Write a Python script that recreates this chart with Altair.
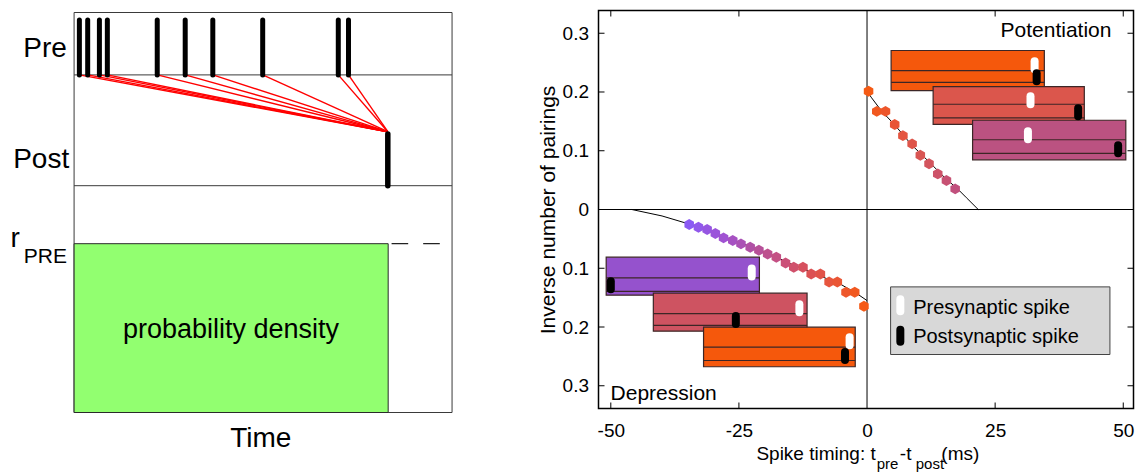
import altair as alt
import pandas as pd

# ---------------- left schematic: data ----------------
pre_spike_times = [1.4, 3.6, 6.7, 8.8, 22.0, 29.4, 36.7, 49.9, 69.9, 72.6]
post_spike_time = 83.0
density_end = 83.1
rate_level = 42.2
rate_dash = [84.0, 96.8]
frame_rows = [100.0, 84.4, 56.7, 0.0]
frame_cols = [0.0, 100.0]
pre_base, pre_top = 84.4, 98.1
post_base, post_top = 56.7, 69.6
converge_level = 70.2

# ---------------- right plot: data ----------------
dep_pts_x = [-34.7, -32.9, -31.2, -29.6, -28.0, -26.2, -24.6, -22.8, -21.1, -19.4, -17.7,
             -15.9, -14.3, -12.5, -10.9, -9.1, -7.4, -5.8, -4.1, -2.4, -0.6]
dep_pts_y = [-0.0256, -0.0301, -0.0340, -0.0409, -0.0483, -0.0528, -0.0585, -0.0642, -0.0693,
             -0.0756, -0.0812, -0.0910, -0.0984, -0.0984, -0.1098, -0.1098, -0.1234, -0.1234,
             -0.1410, -0.1410, -0.1646]
pot_pts_x = [0.3, 1.9, 3.6, 5.4, 7.0, 8.8, 10.4, 12.1, 13.8, 15.5, 17.2]
pot_pts_y = [0.2014, 0.1670, 0.1670, 0.1447, 0.1257, 0.1117, 0.0925, 0.0777, 0.0606, 0.0493, 0.0351]

dep_curve_x = [-45.9, -40, -35, -30, -25, -20, -15, -10, -5, -2, 0]
dep_curve_y = [0, -0.011, -0.024, -0.039, -0.056, -0.072, -0.092, -0.110, -0.128, -0.143, -0.155]
pot_curve_x = [0, 0.9, 2.8, 5.4, 8.7, 12.0, 15.2, 17.8, 19.4, 21.7]
pot_curve_y = [0.201, 0.190, 0.168, 0.144, 0.110, 0.082, 0.054, 0.034, 0.020, 0.0]

box_x0 = [4.7, 12.9, 20.6, -50.9, -41.7, -31.9]
box_x1 = [34.6, 42.4, 50.5, -21.0, -11.7, -2.3]
box_top = [0.2706, 0.2092, 0.1519, -0.0812, -0.1424, -0.2002]
box_bottom = [0.2022, 0.1449, 0.0845, -0.1459, -0.2071, -0.2676]
box_line1 = [0.2364, 0.1791, 0.1187, -0.1164, -0.1771, -0.2344]
box_line2 = [0.2163, 0.1559, 0.0956, -0.1395, -0.1972, -0.2570]
box_colors = ['#F5580C', '#DB564C', '#BB5281', '#9552CD', '#CE5361', '#F5580C']
pre_spike_x = [32.7, 31.9, 31.4, -22.5, -13.2, -3.4]
pre_spike_y = [0.2455, 0.1861, 0.1264, -0.1072, -0.1680, -0.2243]
post_spike_x = [33.1, 41.2, 49.0, -50.0, -25.6, -4.3]
post_spike_y = [0.2252, 0.1656, 0.1026, -0.1288, -0.1881, -0.2492]

x_ticks = [-50, -25, 0, 25, 50]
y_ticks = [-0.3, -0.2, -0.1, 0, 0.1, 0.2, 0.3]

color_dom = [-35, -28, -22, -17, -12, -7, 0, 5, 10, 17]
color_rng = ['#8A5AF5', '#A052D2', '#B3509E', '#C75080', '#D8505A', '#E8553C',
             '#F65A12', '#EA5535', '#DA5550', '#C2507C']

FONT = 'Liberation Sans'

# ---------------- left panel ----------------
L_W, L_H = 460, 402
L_XDOM = [-19.6, 102.1]
L_YDOM = [0, 100.5]


def lx(f='x'):
    return alt.X(f + ':Q', scale=alt.Scale(domain=L_XDOM, nice=False, zero=False), axis=None)


def ly(f='y'):
    return alt.Y(f + ':Q', scale=alt.Scale(domain=L_YDOM, nice=False, zero=False), axis=None)


frame_h = alt.Chart(pd.DataFrame({'y': frame_rows, 'x': 0.0, 'x2': 100.0})).mark_rule(
    color='#3a3a3a', strokeWidth=1).encode(x=lx(), x2='x2:Q', y=ly())
frame_v = alt.Chart(pd.DataFrame({'x': frame_cols, 'y': 0.0, 'y2': 100.0})).mark_rule(
    color='#3a3a3a', strokeWidth=1).encode(x=lx(), y=ly(), y2='y2:Q')
density = alt.Chart(pd.DataFrame({'x': [0.0], 'x2': [density_end], 'y': [0.0], 'y2': [rate_level]})).mark_rect(
    fill='#92FF70', stroke='#2a2a2a', strokeWidth=1).encode(x=lx(), x2='x2:Q', y=ly(), y2='y2:Q')
dash = alt.Chart(pd.DataFrame({'x': [rate_dash[0]], 'x2': [rate_dash[1]], 'y': [rate_level]})).mark_rule(
    color='#222222', strokeWidth=1.2, strokeDash=[16.6, 15]).encode(x=lx(), x2='x2:Q', y=ly())
red = alt.Chart(pd.DataFrame({'x': pre_spike_times, 'x2': post_spike_time, 'y': pre_base,
                              'y2': converge_level})).mark_rule(color='#FF0000', strokeWidth=1.4).encode(
    x=lx(), x2='x2:Q', y=ly(), y2='y2:Q')
pre = alt.Chart(pd.DataFrame({'x': pre_spike_times, 'y': pre_base, 'y2': pre_top})).mark_rule(
    color='black', strokeWidth=5, strokeCap='round').encode(x=lx(), y=ly(), y2='y2:Q')
post = alt.Chart(pd.DataFrame({'x': [post_spike_time], 'y': [post_base], 'y2': [post_top]})).mark_rule(
    color='black', strokeWidth=5.5, strokeCap='round').encode(x=lx(), y=ly(), y2='y2:Q')


def ltext(t, x, y, size, align):
    return alt.Chart(pd.DataFrame({'x': [x], 'y': [y], 't': [t]})).mark_text(
        fontSize=size, align=align, baseline='alphabetic', color='black', font=FONT).encode(
        x=lx(), y=ly(), text='t:N')


left_texts = [
    ltext('Pre', -1.9, 89.0, 28, 'right'),
    ltext('Post', -1.3, 61.1, 28, 'right'),
    ltext('r', -16.8, 41.5, 28, 'left'),
    ltext('PRE', -13.3, 37.3, 21, 'left'),
    ltext('probability density', 41.5, 18.75, 27, 'center'),
    ltext('Time', 49.4, -8.5, 28, 'center'),
]

left = alt.layer(frame_h, frame_v, density, dash, red, pre, post, *left_texts).properties(
    width=L_W, height=L_H, view=alt.ViewBackground(stroke='transparent', strokeWidth=0))

# ---------------- right panel ----------------
R_W, R_H = 535, 398
R_XDOM = [-52.4, 52.0]
R_YDOM = [-0.3387, 0.3387]

x_axis = alt.Axis(values=x_ticks, labelExpr="'' + datum.value", ticks=False, domain=False, grid=False,
                  labelPadding=13, labelFontSize=19, labelColor='black', labelFont=FONT, title=None)
y_axis = alt.Axis(values=y_ticks, labelExpr="format(abs(datum.value), '.1~f')", ticks=False, domain=False,
                  grid=False, labelPadding=10, labelFontSize=19, labelColor='black', labelFont=FONT,
                  title='Inverse number of pairings', titleFontSize=21, titleFontWeight='normal',
                  titleFont=FONT, titleColor='black', titlePadding=4)


def rx(f='x'):
    return alt.X(f + ':Q', scale=alt.Scale(domain=R_XDOM, nice=False, zero=False), axis=x_axis)


def ry(f='y'):
    return alt.Y(f + ':Q', scale=alt.Scale(domain=R_YDOM, nice=False, zero=False), axis=y_axis)


zero_v = alt.Chart(pd.DataFrame({'x': [0.0]})).mark_rule(color='black', strokeWidth=1).encode(x=rx())
zero_h = alt.Chart(pd.DataFrame({'y': [0.0]})).mark_rule(color='black', strokeWidth=1).encode(y=ry())

tick_x_vals = [v for v in x_ticks if v != 0]
tick_y_vals = [v for v in y_ticks if v != 0]
ticks_top = alt.Chart(pd.DataFrame({'x': tick_x_vals})).mark_rule(color='black').encode(
    x=rx(), y=alt.value(0), y2=alt.value(6))
ticks_bottom = alt.Chart(pd.DataFrame({'x': tick_x_vals})).mark_rule(color='black').encode(
    x=rx(), y=alt.value(R_H), y2=alt.value(R_H - 6))
ticks_left = alt.Chart(pd.DataFrame({'y': tick_y_vals})).mark_rule(color='black').encode(
    y=ry(), x=alt.value(0), x2=alt.value(6))
ticks_right = alt.Chart(pd.DataFrame({'y': tick_y_vals})).mark_rule(color='black').encode(
    y=ry(), x=alt.value(R_W), x2=alt.value(R_W - 6))

curve_df = pd.DataFrame({
    'x': dep_curve_x + pot_curve_x,
    'y': dep_curve_y + pot_curve_y,
    'branch': ['dep'] * len(dep_curve_x) + ['pot'] * len(pot_curve_x),
})
curves = alt.Chart(curve_df).mark_line(color='black', strokeWidth=1).encode(
    x=rx(), y=ry(), detail='branch:N')

pts_df = pd.DataFrame({'x': dep_pts_x + pot_pts_x, 'y': dep_pts_y + pot_pts_y})
HEX = 'M0,-1L0.87,-0.5L0.87,0.5L0,1L-0.87,0.5L-0.87,-0.5Z'
points = alt.Chart(pts_df).mark_point(filled=True, shape=HEX, size=120, opacity=1).encode(
    x=rx(), y=ry(),
    color=alt.Color('x:Q', scale=alt.Scale(domain=color_dom, range=color_rng, interpolate='rgb'),
                    legend=None))

box_df = pd.DataFrame({'x': box_x0, 'x2': box_x1, 'y': box_top, 'y2': box_bottom, 'c': box_colors})
boxes = alt.Chart(box_df).mark_rect(stroke='#3c2626', strokeWidth=1.2).encode(
    x=rx(), x2='x2:Q', y=ry(), y2='y2:Q', fill=alt.Fill('c:N', scale=None))
line_df = pd.DataFrame({'x': box_x0 * 2, 'x2': box_x1 * 2, 'y': box_line1 + box_line2})
box_lines = alt.Chart(line_df).mark_rule(color='#3c2626', strokeWidth=1.2).encode(
    x=rx(), x2='x2:Q', y=ry())

half = 0.0068
pill_df = pd.DataFrame({
    'x': pre_spike_x + post_spike_x,
    'y': [v - half for v in pre_spike_y] + [v - half for v in post_spike_y],
    'y2': [v + half for v in pre_spike_y] + [v + half for v in post_spike_y],
    'c': ['white'] * len(pre_spike_x) + ['black'] * len(post_spike_x),
})
pills = alt.Chart(pill_df).mark_rule(strokeWidth=8, strokeCap='round').encode(
    x=rx(), y=ry(), y2='y2:Q', color=alt.Color('c:N', scale=None))

# legend box
leg_rect = alt.Chart(pd.DataFrame({'x': [4.6], 'x2': [47.4], 'y': [-0.1317], 'y2': [-0.2468]})).mark_rect(
    fill='#D8D8D8', stroke='#444444', strokeWidth=1).encode(x=rx(), x2='x2:Q', y=ry(), y2='y2:Q')
lhalf = 0.0102
leg_pill_df = pd.DataFrame({'x': [6.5, 6.5], 'y': [-0.1629 - lhalf, -0.2148 - lhalf],
                            'y2': [-0.1629 + lhalf, -0.2148 + lhalf], 'c': ['white', 'black']})
leg_pills = alt.Chart(leg_pill_df).mark_rule(strokeWidth=8, strokeCap='round').encode(
    x=rx(), y=ry(), y2='y2:Q', color=alt.Color('c:N', scale=None))


def rtext(t, x, y, size, align):
    return alt.Chart(pd.DataFrame({'x': [x], 'y': [y], 't': [t]})).mark_text(
        fontSize=size, align=align, baseline='alphabetic', color='black', font=FONT).encode(
        x=rx(), y=ry(), text='t:N')


right_texts = [
    rtext('Presynaptic spike', 9.0, -0.1787, 20, 'left'),
    rtext('Postsynaptic spike', 9.0, -0.2271, 20, 'left'),
    rtext('Potentiation', 47.7, 0.2938, 21, 'right'),
    rtext('Depression', -50.05, -0.3234, 21, 'left'),
    rtext('Spike timing: t', 1.7, -0.4272, 19, 'right'),
    rtext('pre', 1.9, -0.4420, 15, 'left'),
    rtext('-t', 6.4, -0.4272, 19, 'left'),
    rtext('post', 9.5, -0.4420, 15, 'left'),
    rtext('(ms)', 14.5, -0.4272, 19, 'left'),
]

right = alt.layer(zero_v, zero_h, ticks_top, ticks_bottom, ticks_left, ticks_right, curves, points,
                  boxes, box_lines, pills, leg_rect, leg_pills, *right_texts).properties(
    width=R_W, height=R_H, view=alt.ViewBackground(stroke='black', strokeWidth=1.5))

chart = alt.hconcat(left, right, spacing=138.5, bounds='flush').properties(
    padding={'left': 0, 'top': 8.5, 'right': 0, 'bottom': 0}
).configure(font=FONT).configure_view(stroke='transparent', strokeWidth=0)

chart.save('out.html', embed_options={'renderer': 'svg', 'actions': False})
